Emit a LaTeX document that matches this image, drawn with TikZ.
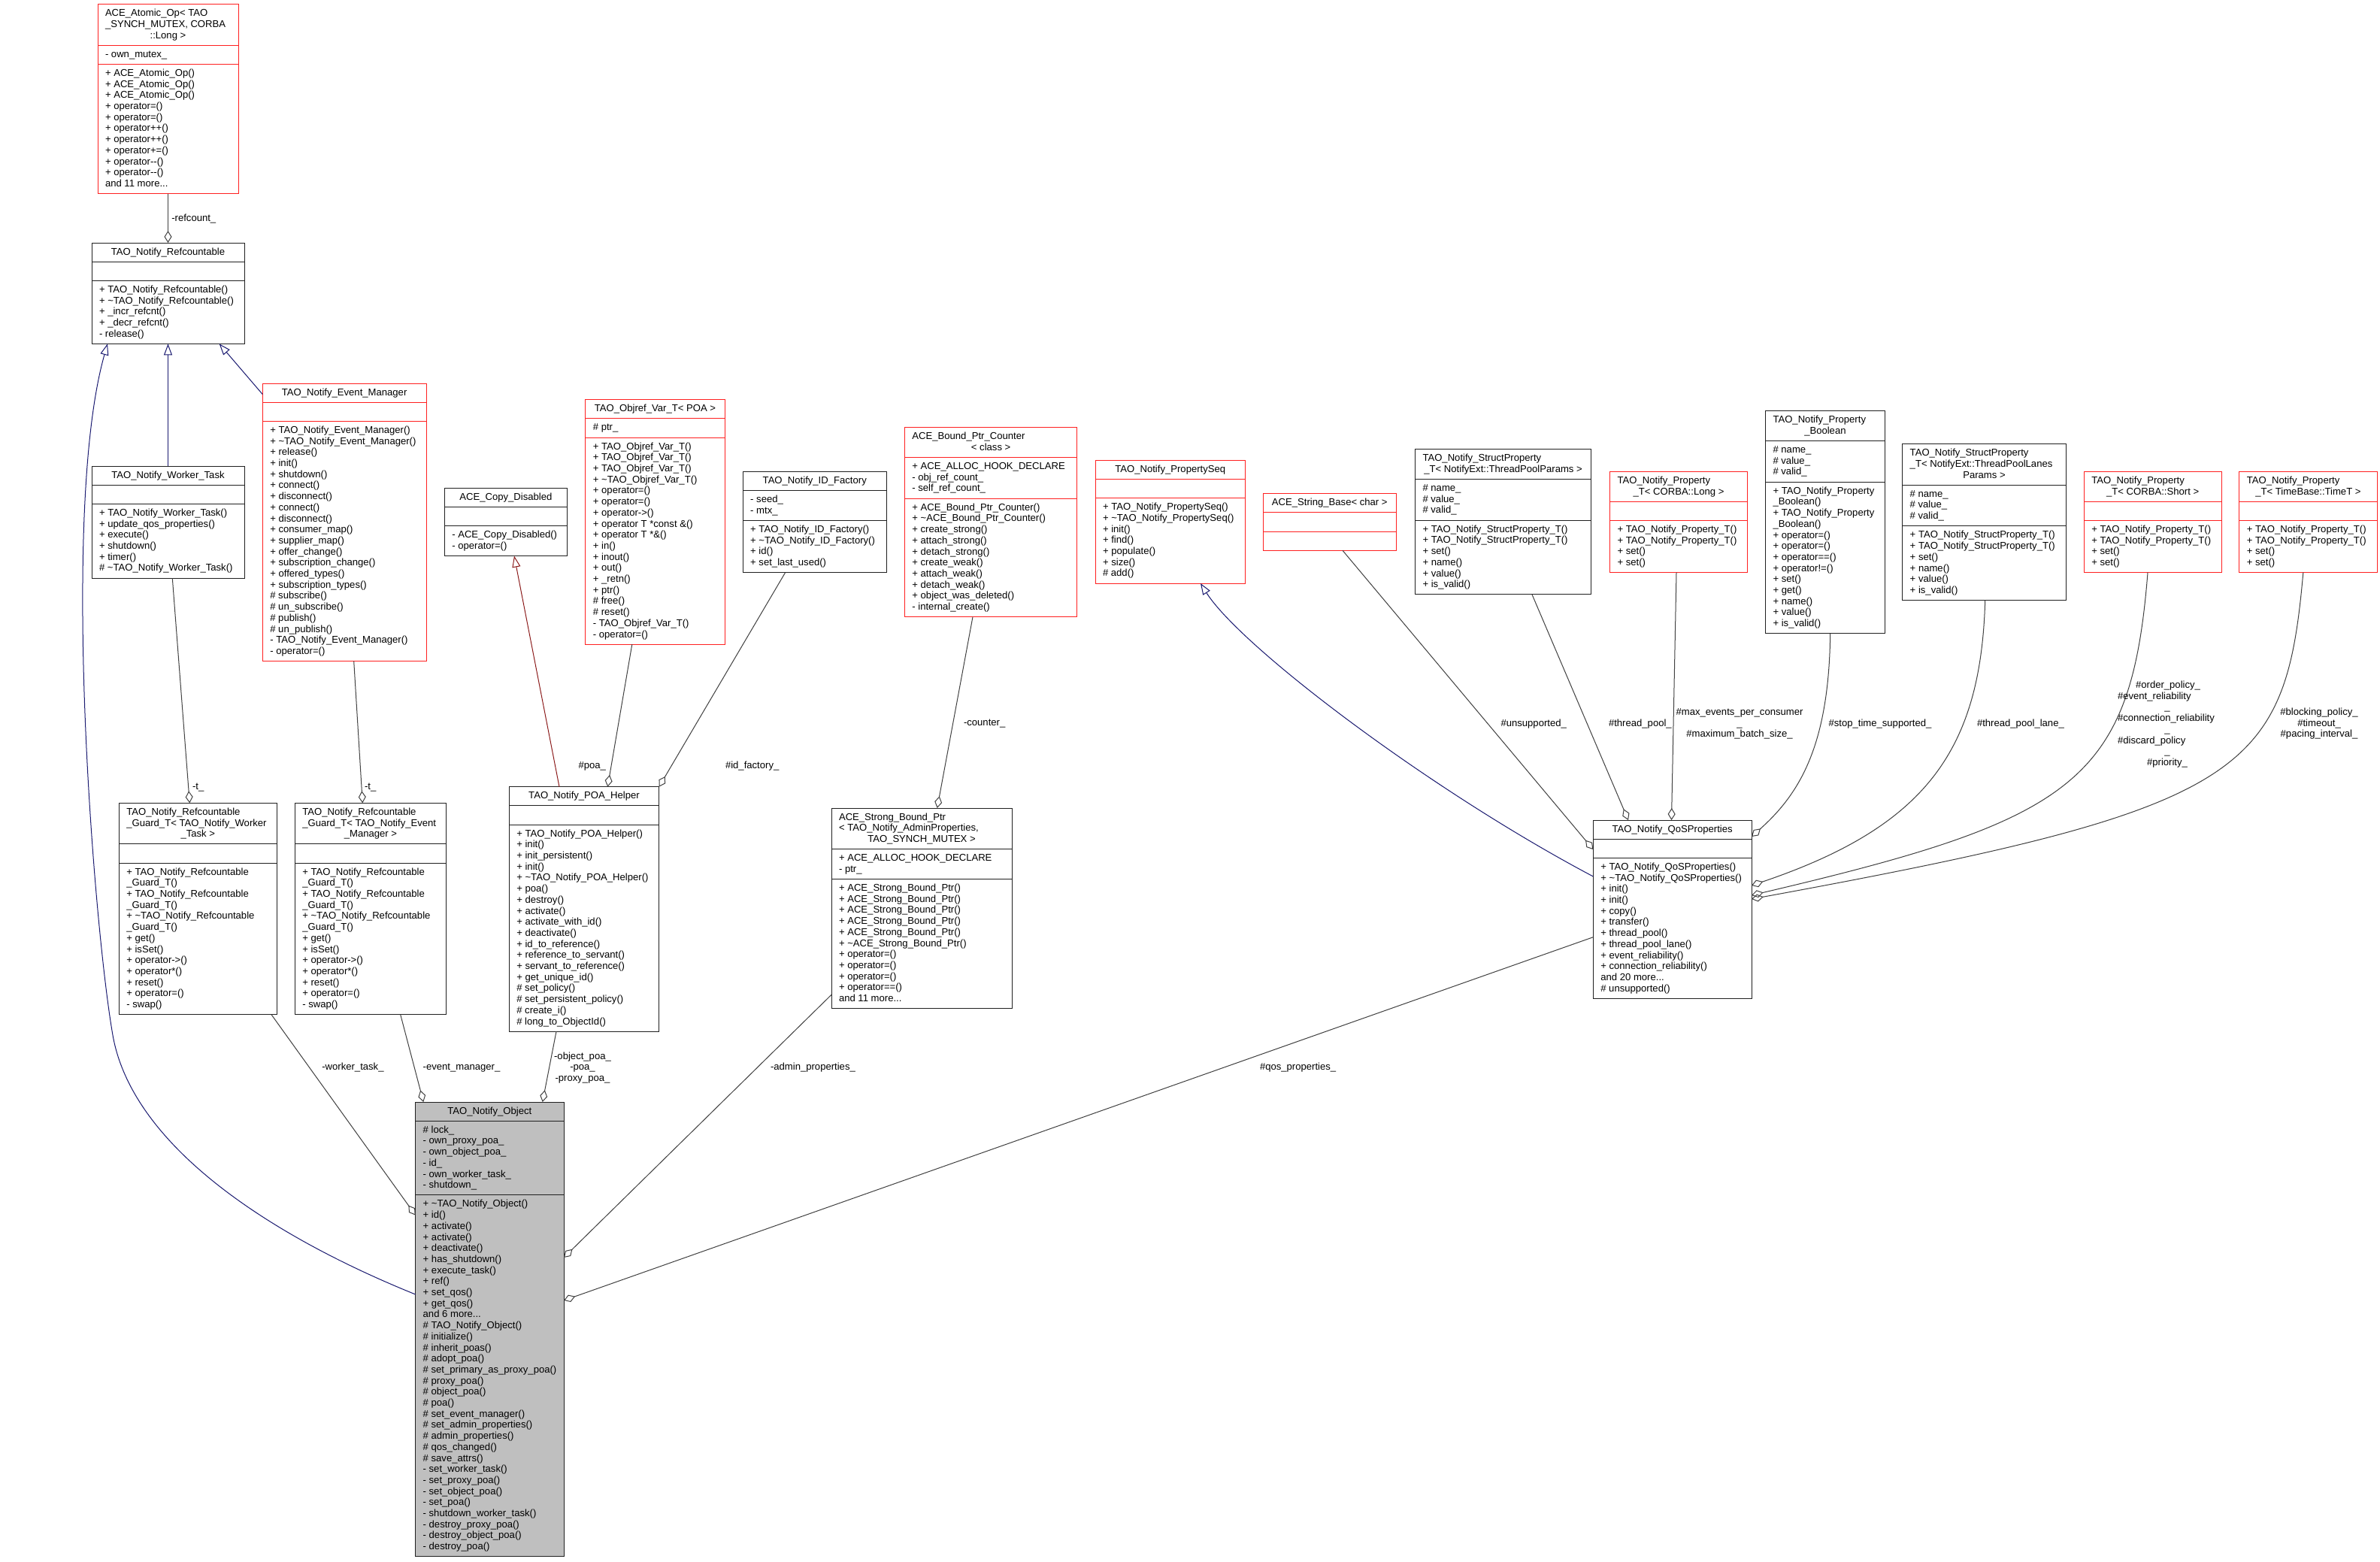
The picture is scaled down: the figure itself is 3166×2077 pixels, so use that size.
\documentclass[tikz,border=0pt]{standalone}
\usepackage{fontspec}
\setmainfont{Liberation Sans}
\usetikzlibrary{arrows.meta}
\definecolor{navyedge}{HTML}{191970}
\definecolor{privedge}{HTML}{8B1A1A}
\definecolor{useedge}{HTML}{404040}
\definecolor{objfill}{HTML}{BFBFBF}
\definecolor{boxblack}{HTML}{202020}
\definecolor{boxred}{HTML}{FF2020}
\newcommand\tld{\textasciitilde}
\newcommand\umlbox[9]{%
  \node[cls, draw=#2, fill=#3, minimum width=#6pt, minimum height={#7+#8+#9}] (#1) at (#4,#5) {};
  \draw[draw=#2, line width=1pt] ([yshift={-(#7)}]#1.north west) -- ([yshift={-(#7)}]#1.north east);
  \draw[draw=#2, line width=1pt] ([yshift={-(#7+#8)}]#1.north west) -- ([yshift={-(#7+#8)}]#1.north east);
}
\newcommand\ttl[2]{\node[mt, anchor=base] (#1-t) at ([yshift=-16pt]#1.north) {#2};}
\newcommand\ttlm[4]{%
  \node[mt] (#1-t) at ([xshift=10pt,yshift=-5.7pt]#1.north west) {\strut #2};
  \node[mt, anchor=base] (#1-tl) at ([yshift={-(16+#4)}]#1.north) {#3};}
\newcommand\sect[4]{\node[mt] (#1-#2) at ([xshift=10pt,yshift={-(#3+5.7)}]#1.north west) {\strut #4};}
\begin{document}
\begin{tikzpicture}[x=1pt,y=-1pt,
  cls/.style={draw, line width=1pt, inner sep=0pt, outer sep=0pt, anchor=north west},
  mt/.style={font=\fontsize{13.1}{14.7}\selectfont, inner sep=0pt, outer sep=0pt, align=left, anchor=north west},
  lt/.style={font=\fontsize{13.1}{14.7}\selectfont, inner sep=0pt, outer sep=0pt, anchor=base west},
  use/.style={draw=useedge, line width=1pt, -{Diamond[open,length=16pt,width=10pt]}},
  inh/.style={draw=navyedge, line width=1pt, -{Triangle[open,length=15pt,width=11pt]}},
  priv/.style={draw=privedge, line width=1pt, -{Triangle[open,length=15pt,width=11pt]}}]
\fill[white] (0,0) rectangle (3166,2077);
\useasboundingbox (0,0) rectangle (3166,2077);

% ---------- boxes
\umlbox{atomic}{boxred}{white}{130}{5.7}{187}{54.6}{25.2}{172.2}
\umlbox{refc}{boxblack}{white}{122}{323}{203}{25.2}{25.2}{84}
\umlbox{worker}{boxblack}{white}{122}{620}{203}{25.2}{25.2}{98.7}
\umlbox{evmgr}{boxred}{white}{349.3}{510}{217.7}{25.2}{25.2}{319.2}
\umlbox{gworker}{boxblack}{white}{158.3}{1068.3}{210}{54.6}{25.2}{201.6}
\umlbox{gevent}{boxblack}{white}{392.3}{1068.3}{201.4}{54.6}{25.2}{201.6}
\umlbox{obj}{boxblack}{objfill}{552.7}{1466}{197.3}{25.2}{98.7}{480.9}
\umlbox{copyd}{boxblack}{white}{591.3}{649.3}{163.1}{25.2}{25.2}{39.9}
\umlbox{objref}{boxred}{white}{778.9}{531.7}{185.2}{25.2}{25.2}{275.1}
\umlbox{idfac}{boxblack}{white}{988.2}{627.3}{191.1}{25.2}{39.9}{69.3}
\umlbox{poah}{boxblack}{white}{677.3}{1046.7}{199.4}{25.2}{25.2}{275.1}
\umlbox{bpc}{boxred}{white}{1203.4}{568.7}{229.5}{39.9}{54.6}{157.5}
\umlbox{pseq}{boxred}{white}{1457}{612.3}{199.5}{25.2}{25.2}{113.4}
\umlbox{strb}{boxred}{white}{1680.2}{656.7}{177.2}{25.2}{25.2}{25.2}
\umlbox{sbp}{boxblack}{white}{1106}{1075}{240}{54.6}{39.9}{172.2}
\umlbox{sptpp}{boxblack}{white}{1882.5}{597.7}{234.2}{39.9}{54.6}{98.7}
\umlbox{plong}{boxred}{white}{2141.6}{627.3}{182.8}{39.9}{25.2}{69.3}
\umlbox{pbool}{boxblack}{white}{2348.5}{546.7}{158.8}{39.9}{54.6}{201.6}
\umlbox{splanes}{boxblack}{white}{2530.7}{590.7}{217.5}{54.6}{54.6}{98.7}
\umlbox{pshort}{boxred}{white}{2772.3}{627.3}{182.7}{39.9}{25.2}{69.3}
\umlbox{ptime}{boxred}{white}{2978.8}{627.3}{183.2}{39.9}{25.2}{69.3}
\umlbox{qos}{boxblack}{white}{2119.3}{1091}{210.7}{25.2}{25.2}{186.9}

% ---------- texts
\ttlm{atomic}{ACE\_Atomic\_Op< TAO\\\_SYNCH\_MUTEX, CORBA}{::Long >}{29.4}
\sect{atomic}{a}{54.6}{- own\_mutex\_}
\sect{atomic}{m}{79.8}{+ ACE\_Atomic\_Op()\\+ ACE\_Atomic\_Op()\\+ ACE\_Atomic\_Op()\\+ operator=()\\+ operator=()\\+ operator++()\\+ operator++()\\+ operator+=()\\+ operator-{}-()\\+ operator-{}-()\\and 11 more...}

\ttl{refc}{TAO\_Notify\_Refcountable}
\sect{refc}{m}{50.4}{+ TAO\_Notify\_Refcountable()\\+ \tld TAO\_Notify\_Refcountable()\\+ \_incr\_refcnt()\\+ \_decr\_refcnt()\\- release()}

\ttl{worker}{TAO\_Notify\_Worker\_Task}
\sect{worker}{m}{50.4}{+ TAO\_Notify\_Worker\_Task()\\+ update\_qos\_properties()\\+ execute()\\+ shutdown()\\+ timer()\\\# \tld TAO\_Notify\_Worker\_Task()}

\ttl{evmgr}{TAO\_Notify\_Event\_Manager}
\sect{evmgr}{m}{50.4}{+ TAO\_Notify\_Event\_Manager()\\+ \tld TAO\_Notify\_Event\_Manager()\\+ release()\\+ init()\\+ shutdown()\\+ connect()\\+ disconnect()\\+ connect()\\+ disconnect()\\+ consumer\_map()\\+ supplier\_map()\\+ offer\_change()\\+ subscription\_change()\\+ offered\_types()\\+ subscription\_types()\\\# subscribe()\\\# un\_subscribe()\\\# publish()\\\# un\_publish()\\- TAO\_Notify\_Event\_Manager()\\- operator=()}

\ttlm{gworker}{TAO\_Notify\_Refcountable\\\_Guard\_T< TAO\_Notify\_Worker}{\_Task >}{29.4}
\sect{gworker}{m}{79.8}{+ TAO\_Notify\_Refcountable\\\_Guard\_T()\\+ TAO\_Notify\_Refcountable\\\_Guard\_T()\\+ \tld TAO\_Notify\_Refcountable\\\_Guard\_T()\\+ get()\\+ isSet()\\+ operator->()\\+ operator*()\\+ reset()\\+ operator=()\\- swap()}

\ttlm{gevent}{TAO\_Notify\_Refcountable\\\_Guard\_T< TAO\_Notify\_Event}{\_Manager >}{29.4}
\sect{gevent}{m}{79.8}{+ TAO\_Notify\_Refcountable\\\_Guard\_T()\\+ TAO\_Notify\_Refcountable\\\_Guard\_T()\\+ \tld TAO\_Notify\_Refcountable\\\_Guard\_T()\\+ get()\\+ isSet()\\+ operator->()\\+ operator*()\\+ reset()\\+ operator=()\\- swap()}

\ttl{obj}{TAO\_Notify\_Object}
\sect{obj}{a}{25.2}{\# lock\_\\- own\_proxy\_poa\_\\- own\_object\_poa\_\\- id\_\\- own\_worker\_task\_\\- shutdown\_}
\sect{obj}{m}{123.9}{+ \tld TAO\_Notify\_Object()\\+ id()\\+ activate()\\+ activate()\\+ deactivate()\\+ has\_shutdown()\\+ execute\_task()\\+ ref()\\+ set\_qos()\\+ get\_qos()\\and 6 more...\\\# TAO\_Notify\_Object()\\\# initialize()\\\# inherit\_poas()\\\# adopt\_poa()\\\# set\_primary\_as\_proxy\_poa()\\\# proxy\_poa()\\\# object\_poa()\\\# poa()\\\# set\_event\_manager()\\\# set\_admin\_properties()\\\# admin\_properties()\\\# qos\_changed()\\\# save\_attrs()\\- set\_worker\_task()\\- set\_proxy\_poa()\\- set\_object\_poa()\\- set\_poa()\\- shutdown\_worker\_task()\\- destroy\_proxy\_poa()\\- destroy\_object\_poa()\\- destroy\_poa()}

\ttl{copyd}{ACE\_Copy\_Disabled}
\sect{copyd}{m}{50.4}{- ACE\_Copy\_Disabled()\\- operator=()}

\ttl{objref}{TAO\_Objref\_Var\_T< POA >}
\sect{objref}{a}{25.2}{\# ptr\_}
\sect{objref}{m}{50.4}{+ TAO\_Objref\_Var\_T()\\+ TAO\_Objref\_Var\_T()\\+ TAO\_Objref\_Var\_T()\\+ \tld TAO\_Objref\_Var\_T()\\+ operator=()\\+ operator=()\\+ operator->()\\+ operator T *const \&()\\+ operator T *\&()\\+ in()\\+ inout()\\+ out()\\+ \_retn()\\+ ptr()\\\# free()\\\# reset()\\- TAO\_Objref\_Var\_T()\\- operator=()}

\ttl{idfac}{TAO\_Notify\_ID\_Factory}
\sect{idfac}{a}{25.2}{- seed\_\\- mtx\_}
\sect{idfac}{m}{65.1}{+ TAO\_Notify\_ID\_Factory()\\+ \tld TAO\_Notify\_ID\_Factory()\\+ id()\\+ set\_last\_used()}

\ttl{poah}{TAO\_Notify\_POA\_Helper}
\sect{poah}{m}{50.4}{+ TAO\_Notify\_POA\_Helper()\\+ init()\\+ init\_persistent()\\+ init()\\+ \tld TAO\_Notify\_POA\_Helper()\\+ poa()\\+ destroy()\\+ activate()\\+ activate\_with\_id()\\+ deactivate()\\+ id\_to\_reference()\\+ reference\_to\_servant()\\+ servant\_to\_reference()\\+ get\_unique\_id()\\\# set\_policy()\\\# set\_persistent\_policy()\\\# create\_i()\\\# long\_to\_ObjectId()}

\ttlm{bpc}{ACE\_Bound\_Ptr\_Counter}{< class >}{14.7}
\sect{bpc}{a}{39.9}{+ ACE\_ALLOC\_HOOK\_DECLARE\\- obj\_ref\_count\_\\- self\_ref\_count\_}
\sect{bpc}{m}{94.5}{+ ACE\_Bound\_Ptr\_Counter()\\+ \tld ACE\_Bound\_Ptr\_Counter()\\+ create\_strong()\\+ attach\_strong()\\+ detach\_strong()\\+ create\_weak()\\+ attach\_weak()\\+ detach\_weak()\\+ object\_was\_deleted()\\- internal\_create()}

\ttl{pseq}{TAO\_Notify\_PropertySeq}
\sect{pseq}{m}{50.4}{+ TAO\_Notify\_PropertySeq()\\+ \tld TAO\_Notify\_PropertySeq()\\+ init()\\+ find()\\+ populate()\\+ size()\\\# add()}

\ttl{strb}{ACE\_String\_Base< char >}

\ttlm{sbp}{ACE\_Strong\_Bound\_Ptr\\< TAO\_Notify\_AdminProperties,}{TAO\_SYNCH\_MUTEX >}{29.4}
\sect{sbp}{a}{54.6}{+ ACE\_ALLOC\_HOOK\_DECLARE\\- ptr\_}
\sect{sbp}{m}{94.5}{+ ACE\_Strong\_Bound\_Ptr()\\+ ACE\_Strong\_Bound\_Ptr()\\+ ACE\_Strong\_Bound\_Ptr()\\+ ACE\_Strong\_Bound\_Ptr()\\+ ACE\_Strong\_Bound\_Ptr()\\+ \tld ACE\_Strong\_Bound\_Ptr()\\+ operator=()\\+ operator=()\\+ operator=()\\+ operator==()\\and 11 more...}

\ttlm{sptpp}{TAO\_Notify\_StructProperty}{\_T< NotifyExt::ThreadPoolParams >}{14.7}
\sect{sptpp}{a}{39.9}{\# name\_\\\# value\_\\\# valid\_}
\sect{sptpp}{m}{94.5}{+ TAO\_Notify\_StructProperty\_T()\\+ TAO\_Notify\_StructProperty\_T()\\+ set()\\+ name()\\+ value()\\+ is\_valid()}

\ttlm{plong}{TAO\_Notify\_Property}{\_T< CORBA::Long >}{14.7}
\sect{plong}{m}{65.1}{+ TAO\_Notify\_Property\_T()\\+ TAO\_Notify\_Property\_T()\\+ set()\\+ set()}

\ttlm{pbool}{TAO\_Notify\_Property}{\_Boolean}{14.7}
\sect{pbool}{a}{39.9}{\# name\_\\\# value\_\\\# valid\_}
\sect{pbool}{m}{94.5}{+ TAO\_Notify\_Property\\\_Boolean()\\+ TAO\_Notify\_Property\\\_Boolean()\\+ operator=()\\+ operator=()\\+ operator==()\\+ operator!=()\\+ set()\\+ get()\\+ name()\\+ value()\\+ is\_valid()}

\ttlm{splanes}{TAO\_Notify\_StructProperty\\\_T< NotifyExt::ThreadPoolLanes}{Params >}{29.4}
\sect{splanes}{a}{54.6}{\# name\_\\\# value\_\\\# valid\_}
\sect{splanes}{m}{109.2}{+ TAO\_Notify\_StructProperty\_T()\\+ TAO\_Notify\_StructProperty\_T()\\+ set()\\+ name()\\+ value()\\+ is\_valid()}

\ttlm{pshort}{TAO\_Notify\_Property}{\_T< CORBA::Short >}{14.7}
\sect{pshort}{m}{65.1}{+ TAO\_Notify\_Property\_T()\\+ TAO\_Notify\_Property\_T()\\+ set()\\+ set()}

\ttlm{ptime}{TAO\_Notify\_Property}{\_T< TimeBase::TimeT >}{14.7}
\sect{ptime}{m}{65.1}{+ TAO\_Notify\_Property\_T()\\+ TAO\_Notify\_Property\_T()\\+ set()\\+ set()}

\ttl{qos}{TAO\_Notify\_QoSProperties}
\sect{qos}{m}{50.4}{+ TAO\_Notify\_QoSProperties()\\+ \tld TAO\_Notify\_QoSProperties()\\+ init()\\+ init()\\+ copy()\\+ transfer()\\+ thread\_pool()\\+ thread\_pool\_lane()\\+ event\_reliability()\\+ connection\_reliability()\\and 20 more...\\\# unsupported()}

% ---------- connectors
\draw[use] (atomic.south) -- (refc.north);
\node[lt] (l-refcount) at (228.3,294.5) {-refcount\_};

\draw[inh] (worker.north) -- (refc.south);
\draw[inh] ([yshift=-14.6pt]evmgr.north west) -- ([xshift=68.2pt]refc.south);
\draw[inh] ([yshift=46.4pt]obj.west) .. controls (350,1640) and (175,1520) .. (150,1377)
   .. controls (125,1234) and (80,680) .. ([xshift=-80.5pt]refc.south);

\draw[use] ([xshift=5.8pt]worker.south) -- ([xshift=-11pt]gworker.north);
\node[lt] (l-t1) at (256,1050.5) {-t\_};
\draw[use] ([xshift=12.55pt]evmgr.south) -- ([xshift=-10.7pt]gevent.north);
\node[lt] (l-t2) at (485,1050.5) {-t\_};

\draw[use] ([xshift=97.7pt]gworker.south) -- ([yshift=-150.6pt]obj.north west);
\node[lt] (l-wt) at (428.3,1423) {-worker\_task\_};
\draw[use] ([xshift=39.7pt]gevent.south) -- ([xshift=10.6pt]obj.north west);
\node[lt] (l-em) at (562.7,1423) {-event\_manager\_};

\draw[priv] ([xshift=-33pt]poah.north) -- ([xshift=11.15pt]copyd.south);
\draw[use] ([xshift=-30.7pt]objref.south) -- ([xshift=31.3pt]poah.north);
\node[lt, anchor=base east] (l-poa) at (806,1022.5) {\#poa\_};
\draw[use] ([xshift=-39.15pt]idfac.south) -- (poah.north east);
\node[lt] (l-idf) at (965,1022.5) {\#id\_factory\_};
\draw[use] ([xshift=-37pt]poah.south) -- ([xshift=70.35pt]obj.north);
\node[lt, align=center, anchor=north] (l-poas) at (775,1398.7) {\strut-object\_poa\_\\-poa\_\\-proxy\_poa\_};

\draw[use] ([xshift=-24.15pt]bpc.south) -- ([xshift=20.7pt]sbp.north);
\node[lt] (l-cnt) at (1282,965.5) {-counter\_};
\draw[use] ([yshift=18.4pt]sbp.south west) -- ([yshift=-207pt]obj.north east);
\node[lt] (l-adm) at (1025,1423) {-admin\_properties\_};

\draw[inh] ([yshift=-75pt]qos.north west) .. controls (1900,1050) and (1650,860) .. ([xshift=40.25pt]pseq.south);
\draw[use] ([xshift=17.2pt]strb.south) -- ([yshift=-39pt]qos.north west);
\node[lt] (l-uns) at (1996.5,966) {\#unsupported\_};
\draw[use] ([xshift=38.4pt]sptpp.south) -- ([xshift=-58.65pt]qos.north);
\node[lt] (l-tp) at (2140,966) {\#thread\_pool\_};
\draw[use] ([xshift=-3pt]plong.south) -- ([xshift=-1.15pt]qos.north);
\node[lt, align=center, anchor=north] (l-mx) at (2314,941.2) {\strut\#max\_events\_per\_consumer\\\_\\\#maximum\_batch\_size\_};
\draw[use] ([xshift=6.8pt]pbool.south) .. controls (2433,990) and (2395,1055) .. ([yshift=-22pt]qos.north east);
\node[lt] (l-stop) at (2432.5,966) {\#stop\_time\_supported\_};
\draw[use] ([xshift=1.25pt]splanes.south) .. controls (2635,1000) and (2560,1100) .. ([yshift=-87pt]qos.north east);
\node[lt] (l-tpl) at (2630,966) {\#thread\_pool\_lane\_};
\draw[use] ([xshift=-6.65pt]pshort.south) .. controls (2835,1040) and (2760,1090) .. ([yshift=-100pt]qos.north east);
\node[lt, anchor=base] (l-op) at (2884,915.5) {\#order\_policy\_};
\node[lt] (l-er) at (2817,930.2) {\#event\_reliability};
\node[lt, anchor=base] (l-u1) at (2883,944.9) {\_};
\node[lt] (l-cr) at (2817,959.6) {\#connection\_reliability};
\node[lt, anchor=base] (l-u2) at (2883,974.3) {\_};
\node[lt] (l-dp) at (2817,989) {\#discard\_policy};
\node[lt, anchor=base] (l-u3) at (2883,1003.7) {\_};
\node[lt, anchor=base] (l-pr) at (2883,1018.4) {\#priority\_};
\draw[use] ([xshift=-6.6pt]ptime.south) .. controls (3040,1030) and (2990,1075) .. ([yshift=-105pt]qos.north east);
\node[lt, align=center, anchor=north] (l-blk) at (3085,941.2) {\strut\#blocking\_policy\_\\\#timeout\_\\\#pacing\_interval\_};
\draw[use] ([yshift=-155.7pt]qos.north west) -- ([yshift=-264pt]obj.north east);
\node[lt] (l-qos) at (1676,1423) {\#qos\_properties\_};
\end{tikzpicture}
\end{document}
